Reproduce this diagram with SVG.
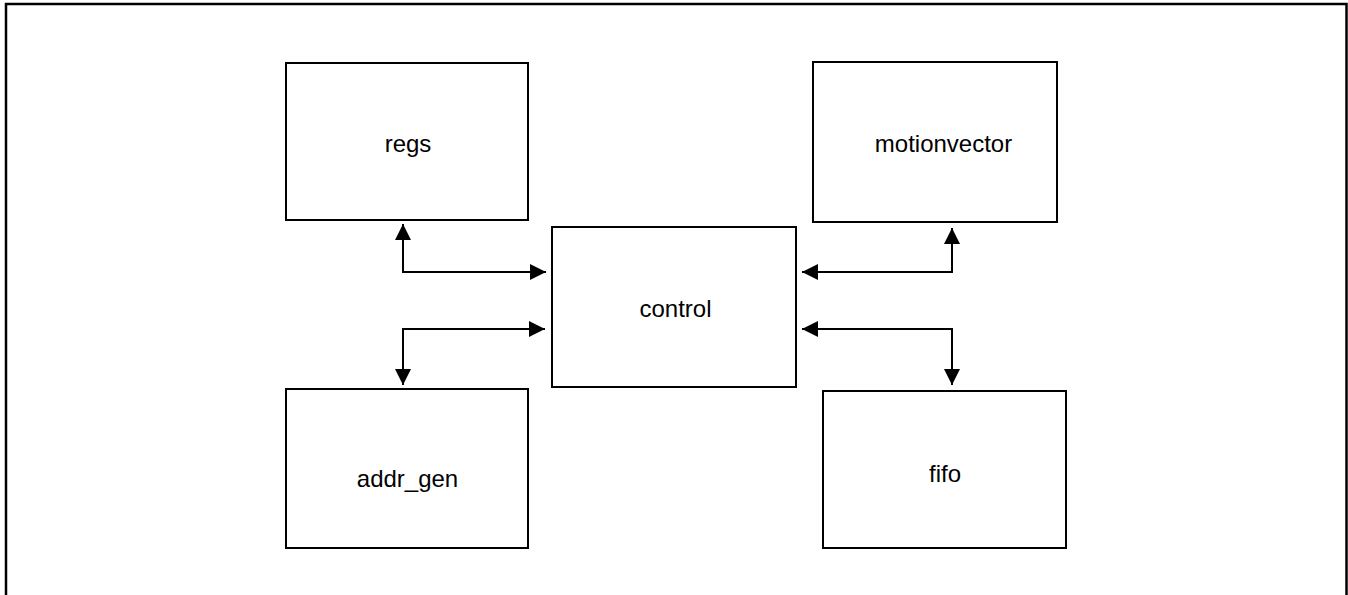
<svg xmlns="http://www.w3.org/2000/svg" width="1348" height="595" viewBox="0 0 1348 595">
<defs>
<style>
.box{fill:#fff;stroke:#000;stroke-width:2}
.lbl{font-family:"Liberation Sans",Arial,sans-serif;font-size:24px;fill:#000;text-anchor:middle}
.conn{fill:none;stroke:#000;stroke-width:2;marker-start:url(#ah);marker-end:url(#ah)}
</style>
<marker id="ah" markerUnits="userSpaceOnUse" markerWidth="16" markerHeight="16" refX="16" refY="8" orient="auto-start-reverse" viewBox="0 0 16 16">
<path d="M0,0 L16,8 L0,16 Z" fill="#000"/>
</marker>
</defs>
<rect x="6" y="4" width="1340.5" height="600" fill="#fff" stroke="#000" stroke-width="2.5"/>
<g id="regs"><rect class="box" x="286" y="63" width="242" height="157"/><text class="lbl" x="408" y="152">regs</text></g>
<g id="motionvector"><rect class="box" x="813" y="62" width="244" height="160"/><text class="lbl" x="943.5" y="152">motionvector</text></g>
<g id="control"><rect class="box" x="552" y="227" width="244" height="160"/><text class="lbl" x="675.5" y="317">control</text></g>
<g id="addr_gen"><rect class="box" x="286" y="389" width="242" height="159"/><text class="lbl" x="407.5" y="487">addr_gen</text></g>
<g id="fifo"><rect class="box" x="823" y="391" width="243" height="157"/><text class="lbl" x="945" y="482">fifo</text></g>
<g id="connectors">
<path class="conn" d="M403,224 V272 H546"/>
<path class="conn" d="M403,385 V329 H545"/>
<path class="conn" d="M952,228 V272 H802"/>
<path class="conn" d="M952,385 V329 H802"/>
</g>
</svg>
